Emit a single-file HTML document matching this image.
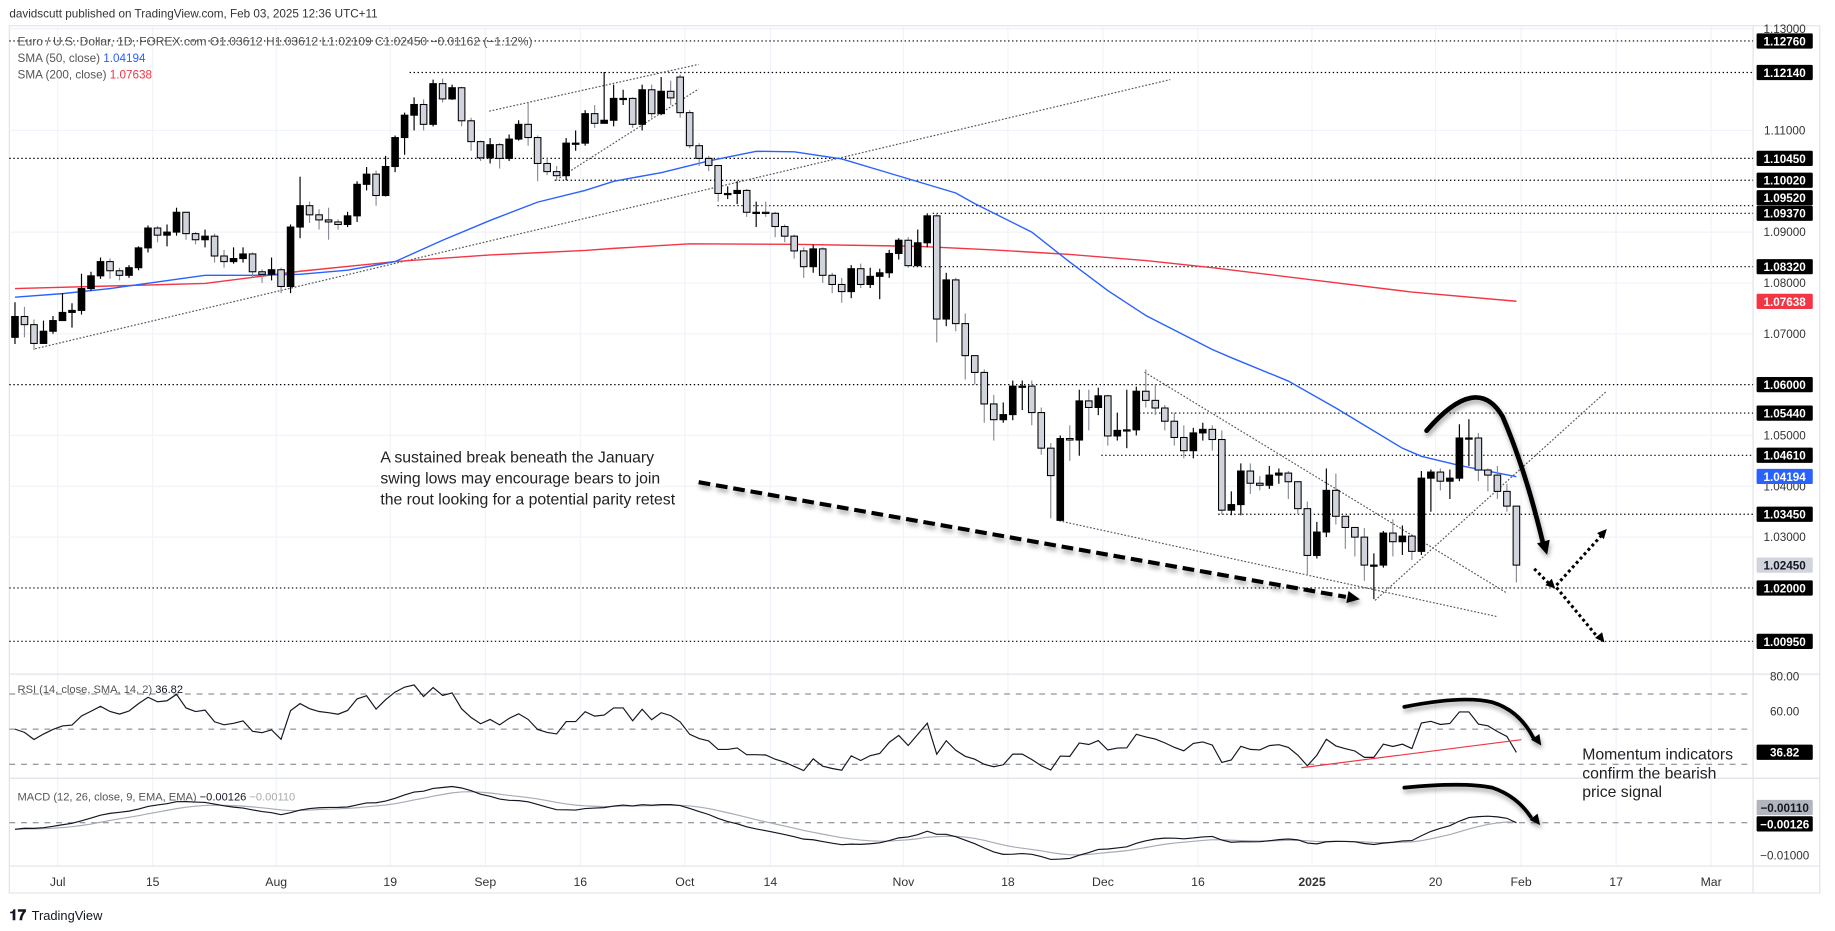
<!DOCTYPE html>
<html><head><meta charset="utf-8">
<style>
html,body{margin:0;padding:0;background:#fff;}
svg{display:block;font-family:"Liberation Sans",sans-serif;}
</style></head>
<body>
<svg id="chart" width="1835" height="931" viewBox="0 0 1568 795.5" preserveAspectRatio="none" xmlns="http://www.w3.org/2000/svg">
<defs>
<filter id="shadow" x="-10%" y="-50%" width="120%" height="200%"><feDropShadow dx="1" dy="3" stdDeviation="2" flood-color="#000" flood-opacity="0.35"/></filter>
<clipPath id="clipMain"><rect x="8" y="22" width="1490" height="554"/></clipPath>
<clipPath id="clipRsi"><rect x="8" y="577" width="1490" height="88"/></clipPath>
<clipPath id="clipMacd"><rect x="8" y="666" width="1490" height="74"/></clipPath>
</defs>
<rect x="0" y="0" width="1568" height="795.5" fill="#fff"/>
<text x="8" y="15" font-size="10" fill="#333">davidscutt published on TradingView.com, Feb 03, 2025 12:36 UTC+11</text>
<rect x="8" y="22" width="1547" height="741" fill="none" stroke="#e0e3eb"/>
<g id="grid"></g>
<g id="levels"></g>
<g id="trend" clip-path="url(#clipMain)"></g>
<g id="sma" clip-path="url(#clipMain)"></g>
<g id="candles" clip-path="url(#clipMain)"></g>
<g id="rsi"></g>
<g id="macd"></g>
<g id="annot"></g>
<g id="axis"></g>
<g id="xaxis"></g>
<text x="15" y="39" font-size="10" fill="#555" textLength="440" lengthAdjust="spacingAndGlyphs">Euro / U.S. Dollar, 1D, FOREX.com  O1.03612  H1.03612  L1.02109  C1.02450  −0.01162 (−1.12%)</text>
<text x="15" y="53" font-size="10" fill="#555">SMA (50, close) <tspan fill="#2962ff">1.04194</tspan></text>
<text x="15" y="67" font-size="10" fill="#555">SMA (200, close) <tspan fill="#f23645">1.07638</tspan></text>
<text x="15" y="592" font-size="9.5" fill="#555">RSI (14, close, SMA, 14, 2)  <tspan fill="#131722">36.82</tspan></text>
<text x="15" y="684" font-size="9.5" fill="#555">MACD (12, 26, close, 9, EMA, EMA)  <tspan fill="#131722">−0.00126</tspan>  <tspan fill="#aaa">−0.00110</tspan></text>
<g>
<text x="8" y="786" font-size="13" font-weight="bold" fill="#131722">𝟏𝟕</text>
<text x="27" y="786" font-size="11" fill="#131722">TradingView</text>
</g>
</svg>
<script>
const closes=[1.0734,1.0718,1.0681,1.0705,1.0726,1.0742,1.0746,1.0789,1.0814,1.0842,
1.0824,1.0815,1.0830,1.0869,1.0908,1.0894,1.0900,1.0939,1.0897,1.0885,
1.0892,1.0853,1.0842,1.0848,1.0857,1.0822,1.0817,1.0826,1.0793,1.0910,
1.0952,1.0934,1.0924,1.0920,1.0915,1.0932,1.0994,1.1014,1.0972,1.1029,
1.1086,1.1130,1.1151,1.1112,1.1192,1.1162,1.1184,1.1119,1.1078,1.1046,
1.1072,1.1045,1.1083,1.1112,1.1086,1.1035,1.1019,1.1011,1.1075,1.1075,
1.1133,1.1114,1.1120,1.1163,1.1163,1.1112,1.1180,1.1133,1.1177,1.1164,
1.1135,1.1070,1.1045,1.1031,1.0976,1.0976,1.0982,1.0939,1.0939,1.0937,
1.0911,1.0892,1.0863,1.0832,1.0867,1.0815,1.0797,1.0783,1.0828,1.0797,
1.0813,1.0820,1.0858,1.0884,1.0834,1.0879,1.0932,1.0729,1.0806,1.0720,
1.0657,1.0624,1.0562,1.0531,1.0541,1.0597,1.0597,1.0545,1.0475,1.0421,
1.0494,1.0491,1.0568,1.0555,1.0578,1.0499,1.0510,1.0511,1.0587,1.0569,
1.0554,1.0528,1.0496,1.0470,1.0505,1.0512,1.0492,1.0353,1.0364,1.0430,
1.0406,1.0402,1.0422,1.0426,1.0409,1.0356,1.0264,1.0310,1.0392,1.0341,
1.0319,1.0300,1.0245,1.0245,1.0308,1.0291,1.0302,1.0272,1.0416,1.0428,
1.0410,1.0416,1.0495,1.0495,1.0432,1.0422,1.0390,1.0361,1.0245];
const highs=[1.0762,1.0753,1.0728,1.0726,1.0735,1.0780,1.0760,1.0818,1.0822,1.0850,
1.0848,1.0830,1.0835,1.0872,1.0913,1.0912,1.0915,1.0948,1.0940,1.0900,
1.0905,1.0897,1.0865,1.0870,1.0870,1.0860,1.0827,1.0850,1.0830,1.0915,
1.1009,1.0960,1.0945,1.0948,1.0925,1.0940,1.1000,1.1028,1.1021,1.1050,
1.1090,1.1135,1.1165,1.1161,1.1200,1.1202,1.1190,1.1186,1.1125,1.1080,
1.1085,1.1075,1.1092,1.1120,1.1155,1.1090,1.1045,1.1030,1.1085,1.1100,
1.1140,1.1150,1.1215,1.1190,1.1180,1.1165,1.1190,1.1190,1.1205,1.1198,
1.1210,1.1140,1.1075,1.1050,1.1030,1.0990,1.1000,1.0985,1.0960,1.0960,
1.0940,1.0915,1.0895,1.0870,1.0875,1.0870,1.0820,1.0810,1.0835,1.0838,
1.0830,1.0828,1.0865,1.0888,1.0890,1.0905,1.0937,1.0937,1.0820,1.0810,
1.0740,1.0650,1.0630,1.0580,1.0565,1.0608,1.0608,1.0608,1.0555,1.0485,
1.0500,1.0520,1.0590,1.0590,1.0594,1.0580,1.0545,1.0590,1.0596,1.0630,
1.0600,1.0560,1.0545,1.0520,1.0515,1.0525,1.0520,1.0510,1.0390,1.0445,
1.0445,1.0420,1.0440,1.0435,1.0430,1.0410,1.0370,1.0330,1.0435,1.0425,
1.0340,1.0320,1.0318,1.0268,1.0312,1.0335,1.0323,1.0306,1.0430,1.0433,
1.0435,1.0433,1.0522,1.0532,1.0505,1.0435,1.0440,1.0405,1.0361];
const lows=[1.0680,1.0693,1.0668,1.0680,1.0700,1.0728,1.0712,1.0738,1.0785,1.0808,
1.0808,1.0805,1.0810,1.0825,1.0860,1.0880,1.0872,1.0893,1.0885,1.0876,
1.0870,1.0840,1.0830,1.0838,1.0840,1.0810,1.0800,1.0805,1.0780,1.0780,
1.0888,1.0918,1.0905,1.0885,1.0905,1.0910,1.0920,1.0982,1.0952,1.0970,
1.1018,1.1052,1.1100,1.1100,1.1108,1.1155,1.1160,1.1108,1.1060,1.1040,
1.1035,1.1025,1.1040,1.1080,1.1070,1.1000,1.1012,1.1001,1.1002,1.1060,
1.1070,1.1105,1.1118,1.1108,1.1150,1.1105,1.1100,1.1125,1.1130,1.1150,
1.1125,1.1065,1.1030,1.1020,1.0960,1.0965,1.0955,1.0930,1.0910,1.0930,
1.0890,1.0880,1.0848,1.0810,1.0820,1.0800,1.0780,1.0761,1.0770,1.0790,
1.0790,1.0768,1.0810,1.0846,1.0830,1.0850,1.0870,1.0683,1.0715,1.0705,
1.0610,1.0600,1.0525,1.0490,1.0525,1.0530,1.0550,1.0520,1.0462,1.0337,
1.0333,1.0450,1.0460,1.0510,1.0540,1.0480,1.0490,1.0475,1.0500,1.0555,
1.0540,1.0510,1.0480,1.0455,1.0455,1.0490,1.0470,1.0345,1.0343,1.0343,
1.0385,1.0392,1.0395,1.0405,1.0375,1.0345,1.0225,1.0258,1.0300,1.0325,
1.0277,1.0262,1.0214,1.0178,1.0240,1.0262,1.0265,1.0255,1.0265,1.0350,
1.0392,1.0375,1.0410,1.0440,1.0410,1.0390,1.0375,1.0350,1.0211];
const gapOpens={0:1.0693,70:1.1205,110:1.0333};
const sma50Idx=[0,5,10,15,20,25,30,35,40,45,50,55,60,63,68,73,78,82,87,92,99,101,107,111,115,119,126,128,134,139,146,148,152,158];
const sma50Val=[1.0772,1.0779,1.0789,1.0802,1.0815,1.0815,1.0817,1.0825,1.0842,1.0884,1.0923,1.0959,1.0982,1.1000,1.1017,1.1040,1.1059,1.1058,1.1044,1.1016,1.0977,1.0956,1.0900,1.0841,1.0785,1.0736,1.0669,1.0653,1.0607,1.0554,1.0475,1.0459,1.0441,1.0419];
const sma200Idx=[0,20,30,40,50,60,63,71,82,95,103,111,119,126,137,147,158];
const sma200Val=[1.0789,1.0799,1.0823,1.0842,1.0855,1.0864,1.0868,1.0877,1.0876,1.0872,1.0865,1.0856,1.0844,1.0830,1.0805,1.0782,1.0764];
const priceTicks=["1.13000","1.11000","1.09000","1.08000","1.07000","1.05000","1.04000","1.03000"];
const levelVals=[1.1276,1.1214,1.1045,1.1002,1.0952,1.0937,1.0832,1.0600,1.0544,1.0461,1.0345,1.0200,1.0095];
const levelStartX=[8,350,8,474,613,797,780,8,970,941,1041,8,8];
const levelLabels=["1.12760","1.12140","1.10450","1.10020","1.09520","1.09370","1.08320","1.06000","1.05440","1.04610","1.03450","1.02000","1.00950"];
const dateLabels=["Jul","15","Aug","19","Sep","16","Oct","14","Nov","18","Dec","16","2025","20","Feb","17","Mar"];
const dateIdx=[4,14,27,39,49,59,70,79,93,104,114,124,136,149,158,168,178];
const rsiTicks=[80,60];
const macdTicks=[-0.01];
const emaSeeds=[1.0705,1.0740,-0.0030];

const NS="http://www.w3.org/2000/svg";
function mk(tag,attrs,parent){const e=document.createElementNS(NS,tag);for(const k in attrs)e.setAttribute(k,attrs[k]);parent.appendChild(e);return e;}
const xOf=i=>12.8+i*8.12;
const yP=p=>35+(1.1276-p)*4343.8;
const yR=r=>578+(80-r)*1.5;
const yM=m=>699-m*3200;
const G=id=>document.getElementById(id);

const grid=G('grid');
dateIdx.forEach(i=>{const l=mk('line',{x1:xOf(i)+4,x2:xOf(i)+4,y1:22,y2:740,stroke:'#f0f3fa'},grid);

});
priceTicks.forEach(t=>{const l=mk('line',{x1:8,x2:1498,y1:yP(+t),y2:yP(+t),stroke:'#f0f3fa'},grid);

});
[[576],[665],[740]].forEach(a=>{const l=mk('line',{x1:8,x2:1555,y1:a[0],y2:a[0],stroke:'#e0e3eb'},grid);

});
const vs=mk('line',{x1:1498,x2:1498,y1:22,y2:763,stroke:'#e0e3eb'},grid);



const lv=G('levels');
levelVals.forEach((v,k)=>{const l=mk('line',{x1:levelStartX[k],x2:1498,y1:yP(v),y2:yP(v),stroke:'#000','stroke-width':1,'stroke-dasharray':'1.2 2.2'},lv);

});

const tr=G('trend');
[[30,298,1000,68],[418,95,597,55],[478,152,597,76],[978,318,1288,507],[905,445,1280,527],[1175,513,1372,335]].forEach(s=>{
const l=mk('line',{x1:s[0],y1:s[1],x2:s[2],y2:s[3],stroke:'#555','stroke-width':1,'stroke-dasharray':'1.5 1.5'},tr);

});

const sg=G('sma');
function pl(idx,val,color,name){const pts=idx.map((i,k)=>xOf(i)+','+yP(val[k])).join(' ');
const p=mk('polyline',{points:pts,fill:'none',stroke:color,'stroke-width':1.2},sg);

}
pl(sma200Idx,sma200Val,'#f23645','sma200-line');
pl(sma50Idx,sma50Val,'#2962ff','sma50-line');

const cg=G('candles');
const opens=closes.map((c,i)=>gapOpens[i]!==undefined?gapOpens[i]:closes[i-1]);
closes.forEach((c,i)=>{const o=opens[i];const up=c>=o;const x=xOf(i);
const w=mk('line',{x1:x,x2:x,y1:yP(highs[i]),y2:yP(lows[i]),stroke:up?'#000':'#8a8d96','stroke-width':1},cg);


const t=Math.min(yP(o),yP(c));const h=Math.max(1,Math.abs(yP(o)-yP(c)));
const b=mk('rect',{x:x-2.8,y:t,width:5.6,height:h,fill:up?'#000':'#d1d4dc',stroke:'#000','stroke-width':0.9},cg);

});

const rg=G('rsi');
[70,50,30].forEach(v=>{const l=mk('line',{x1:8,x2:1498,y1:yR(v),y2:yR(v),stroke:'#787b86','stroke-width':0.8,'stroke-dasharray':'5 5'},rg);

});
let ag=0.0016,al=0.0016;const rsi=[];
closes.forEach((c,i)=>{if(i>0){const d=c-closes[i-1];ag=(ag*13+Math.max(d,0))/14;al=(al*13+Math.max(-d,0))/14;}rsi.push(100-100/(1+ag/al));});
const rl=mk('polyline',{points:rsi.map((r,i)=>xOf(i)+','+yR(r)).join(' '),fill:'none',stroke:'#131722','stroke-width':1,'clip-path':'url(#clipRsi)'},rg);



const mg=G('macd');
const zl=mk('line',{x1:8,x2:1498,y1:703,y2:703,stroke:'#787b86','stroke-width':0.8,'stroke-dasharray':'5 5'},mg);


let e12=emaSeeds[0],e26=emaSeeds[1],sig=emaSeeds[2];const macd=[],sigs=[];
closes.forEach(c=>{e12=e12+(c-e12)*2/13;e26=e26+(c-e26)*2/27;const m=e12-e26;sig=sig+(m-sig)*0.2;macd.push(m);sigs.push(sig);});
const sl=mk('polyline',{points:sigs.map((m,i)=>xOf(i)+','+yM(m)).join(' '),fill:'none',stroke:'#a8abb5','stroke-width':1,'clip-path':'url(#clipMacd)'},mg);


const ml=mk('polyline',{points:macd.map((m,i)=>xOf(i)+','+yM(m)).join(' '),fill:'none',stroke:'#131722','stroke-width':1,'clip-path':'url(#clipMacd)'},mg);



const an=G('annot');
function arrowHead(x,y,ang,size,parent){const a=ang,s=size;
const p=[[x,y],[x-s*Math.cos(a-0.45),y-s*Math.sin(a-0.45)],[x-s*Math.cos(a+0.45),y-s*Math.sin(a+0.45)]];
return mk('polygon',{points:p.map(q=>q.join(',')).join(' '),fill:'#000'},parent);}
const sh=mk('g',{filter:'url(#shadow)'},an);
const da=mk('line',{x1:597,y1:412,x2:1150,y2:510,stroke:'#000','stroke-width':3.5,'stroke-dasharray':'10 5'},sh);


arrowHead(1162,512,Math.atan2(98,553),12,sh);
const ca=mk('path',{d:'M1219,368 Q1262,318 1284,356 Q1303,400 1318,462',fill:'none',stroke:'#000','stroke-width':4,'stroke-linecap':'round'},sh);


arrowHead(1322,474,Math.atan2(14,4),13,sh);
[[1311,486,1324,499],[1330,500,1368,458],[1330,502,1364,543]].forEach(s=>{
const l=mk('line',{x1:s[0],y1:s[1],x2:s[2],y2:s[3],stroke:'#000','stroke-width':2.6,'stroke-dasharray':'2.5 2.5'},an);

});
arrowHead(1329,503,Math.atan2(13,13),9,an);
arrowHead(1373,452,Math.atan2(-42,38),9,an);
arrowHead(1371,549,Math.atan2(43,34),9,an);
const rtl=mk('line',{x1:1112,y1:656,x2:1300,y2:632,stroke:'#f23645','stroke-width':1},an);


const sh2=mk('g',{filter:'url(#shadow)'},an);
const ra=mk('path',{d:'M1200,604 Q1250,594 1275,600 Q1298,607 1310,630',fill:'none',stroke:'#000','stroke-width':3.2,'stroke-linecap':'round'},sh2);


arrowHead(1317,637,Math.atan2(10,7),10,sh2);
const ma=mk('path',{d:'M1200,673 Q1250,668 1275,673 Q1296,680 1308,698',fill:'none',stroke:'#000','stroke-width':3.2,'stroke-linecap':'round'},sh2);


arrowHead(1316,705,Math.atan2(9,7),10,sh2);
[["A sustained break beneath the January",395],["swing lows may encourage bears to join",413],["the rout looking for a potential parity retest",431]].forEach(t=>{
const e=mk('text',{x:325,y:t[1],'font-size':13.5,fill:'#222'},an);e.textContent=t[0];

});
[["Momentum indicators",649],["confirm the bearish",665],["price signal",681]].forEach(t=>{
const e=mk('text',{x:1352,y:t[1],'font-size':13.5,fill:'#222'},an);e.textContent=t[0];

});

const ax=G('axis');
function plain(txt,y,name){const e=mk('text',{x:1525,y:y+3.5,'font-size':10,fill:'#333','text-anchor':'middle'},ax);e.textContent=txt;

}
function box(txt,y,bg,fg,name){const r=mk('rect',{x:1501,y:y-6.5,width:48,height:13,fill:bg,rx:1},ax);


const e=mk('text',{x:1525,y:y+3.8,'font-size':10,'font-weight':'bold',fill:fg,'text-anchor':'middle'},ax);e.textContent=txt;

}
priceTicks.forEach(t=>plain(t,Math.max(yP(+t),24),'price-tick'));
rsiTicks.forEach(t=>plain(t.toFixed(2),yR(t),'rsi-tick'));
macdTicks.forEach(t=>plain('−0.01000',yM(t),'macd-tick'));
const stackY={'1.09520':169};
levelLabels.forEach((t,k)=>box(t,stackY[t]||yP(levelVals[k]),'#000','#fff','level-label'));
box('1.07638',yP(1.07638),'#f23645','#fff','sma200-label');
box('1.04194',yP(1.04194),'#2962ff','#fff','sma50-label');
box('1.02450',yP(1.0245),'#d1d4dc','#131722','last-price-label');
box('36.82',yR(36.82),'#000','#fff','rsi-value-label');
box('−0.00110',690,'#b2b5be','#131722','macd-signal-label');
box('−0.00126',704,'#000','#fff','macd-value-label');

const xa=G('xaxis');
dateLabels.forEach((d,k)=>{const e=mk('text',{x:xOf(dateIdx[k])+4,y:757,'font-size':10.5,fill:'#333','text-anchor':'middle','font-weight':d==='2025'?'bold':'normal'},xa);e.textContent=d;

});
</script>
</body></html>
